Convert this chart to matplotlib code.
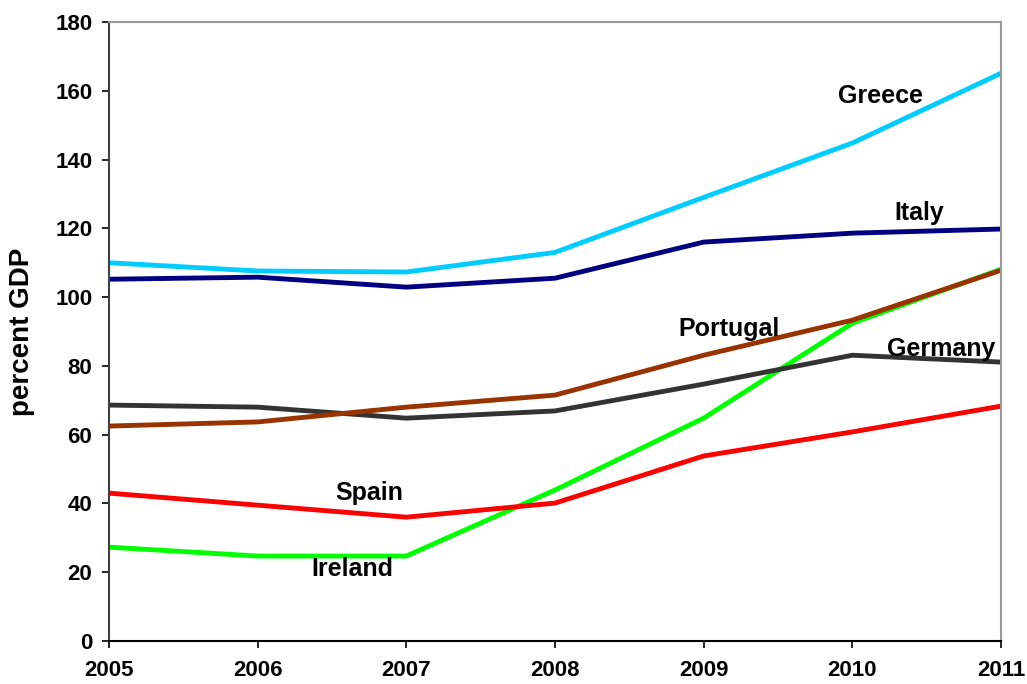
import matplotlib.pyplot as plt

years = [2005, 2006, 2007, 2008, 2009, 2010, 2011]

greece = [110.0, 107.6, 107.3, 113.0, 129.0, 144.8, 165.1]
italy = [105.2, 105.8, 102.9, 105.5, 116.0, 118.6, 119.8]
portugal = [62.5, 63.7, 68.0, 71.5, 83.1, 93.3, 107.8]
germany = [68.6, 68.0, 64.8, 66.9, 74.7, 83.1, 81.1]
spain = [43.0, 39.5, 36.0, 40.1, 53.8, 60.8, 68.3]
ireland = [27.3, 24.7, 24.7, 43.9, 64.8, 92.4, 108.1]

plt.rcParams['font.family'] = ['Liberation Sans', 'DejaVu Sans']
plt.rcParams['font.weight'] = 'bold'

fig = plt.figure(figsize=(10.27, 6.84), dpi=100)
ax = fig.add_axes([0.1061, 0.0629, 0.8686, 0.9049])

# draw order roughly as in the original
ax.plot(years, ireland, color='#00ff00', lw=3.5)
ax.plot(years, spain, color='#ff0000', lw=3.5)
ax.plot(years, germany, color='#333333', lw=3.5)
ax.plot(years, portugal, color='#993300', lw=3.5)
ax.plot(years, italy, color='#000080', lw=3.5)
ax.plot(years, greece, color='#00ccff', lw=3.5)

# country labels
lbl = dict(fontsize=18, fontweight='bold', ha='center', va='center')
ax.text(2010.19, 158.5, 'Greece', **lbl)
ax.text(2010.45, 124.5, 'Italy', **lbl)
ax.text(2009.17, 90.7, 'Portugal', **lbl)
ax.text(2010.6, 84.9, 'Germany', **lbl)
ax.text(2006.75, 43.0, 'Spain', **lbl)
ax.text(2006.64, 20.9, 'Ireland', **lbl)

ax.set_xlim(2005, 2011)
ax.set_ylim(0, 180)
ax.set_xticks(years)
ax.set_yticks(range(0, 181, 20))
ax.tick_params(labelsize=16, length=5, width=1.2, colors='black')
ax.tick_params(axis='y', pad=7)
ax.tick_params(axis='x', pad=9)
for t in ax.get_xticklabels() + ax.get_yticklabels():
    t.set_fontweight('bold')

ax.set_ylabel('percent GDP', fontsize=20, fontweight='bold')
ax.yaxis.label.set_va('center')
ax.yaxis.set_label_coords(-0.0976, 0.5)

ax.spines['left'].set_color('#404040')
ax.spines['left'].set_linewidth(1.5)
ax.spines['bottom'].set_color('black')
ax.spines['bottom'].set_linewidth(1.5)
ax.spines['top'].set_color('#999999')
ax.spines['right'].set_color('#999999')
ax.spines['top'].set_linewidth(1.5)
ax.spines['right'].set_linewidth(1.5)

fig.savefig('out.png', dpi=100)
